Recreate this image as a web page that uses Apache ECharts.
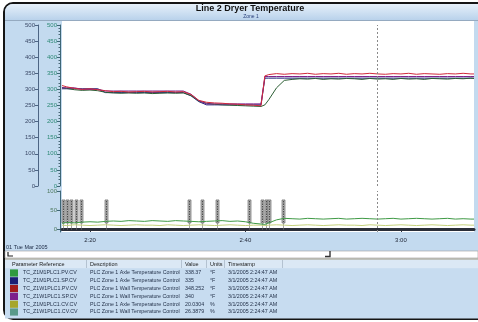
<!DOCTYPE html>
<html>
<head>
<meta charset="utf-8">
<script src="https://cdn.jsdelivr.net/npm/echarts@6/dist/echarts.min.js"></script>
<style>
  html, body { margin: 0; padding: 0; background: #ffffff; }
  #chart { width: 478px; height: 322px; }
</style>
</head>
<body>
<div id="chart"></div>
<script>
// Time axis: minutes after 2:00
const minutes = [16.4,17,18,19,20,21,22,23,24,25,26,27,28,29,30,31,32,33,34,35,36,37,38,39,40,41,42,
  42.5,43,44,45,46,47,48,49,50,51,52,53,54,55,56,57,58,59,60,61,62,63,64,65,66,67,68,69,69.4];

// Zone 1 temperatures (°F)
const wallPV = [312,308,303,300,302,299,296,293,294,292,293,294,292,293,294,292,293,284,266,260,258,257,255,254,252,251,249,
  342,346,349,347,349,348,350,347,349,348,350,347,349,348,350,348,347,349,348,350,347,349,348,347,349,348,350,348,348];
const wallSP = [305,305,305,300,300,300,295,295,295,295,295,295,295,295,295,295,295,285,265,255,255,255,255,255,255,255,255,
  340,340,340,340,340,340,340,340,340,340,340,340,340,340,340,340,340,340,340,340,340,340,340,340,340,340,340,340,340];
const axleSP = [302,302,302,302,302,302,290,290,290,290,290,290,290,290,290,290,290,280,262,252,252,252,252,252,252,252,252,
  335,335,335,335,335,335,335,335,335,335,335,335,335,335,335,335,335,335,335,335,335,335,335,335,335,335,335,335,335];
const axlePV = [306,303,299,297,298,296,291,289,288,289,288,289,287,288,289,288,289,281,264,257,254,252,251,250,249,248,247,
  252,268,305,328,331,333,332,334,331,333,332,334,333,331,334,332,333,331,334,332,333,331,334,333,332,334,333,335,334];

// Controller outputs (%)
const wallOut = [15,17,16,18,19,18,20,21,20,22,21,20,22,21,20,22,21,20,19,20,21,22,20,21,19,15,13,
  12,16,24,28,27,26,28,27,26,27,28,26,27,28,27,26,27,28,26,27,28,27,26,27,28,26,27,26,26];
const axleOut = [10,9,11,10,9,10,11,10,9,10,11,10,10,9,11,10,9,10,11,10,9,10,11,10,9,10,10,
  9,10,11,10,9,10,11,10,9,10,11,10,10,9,11,10,9,10,11,10,9,10,11,10,9,10,11,10,10];

// Event flags and cursor (minutes after 2:00)
const eventMinutes = [16.55,17.05,17.56,18.2,18.85,22.0,32.8,34.35,36.3,40.5,42.1,42.6,43.0,44.8];
const cursorMinute = 56.9;
const timeTicks = [20, 40, 60];
const outputTicks = [0, 50, 100];

// Readout table
const tagNames = ['TC_Z1M1PLC1.PV.CV','TC_Z1M1PLC1.SP.CV','TC_Z1W1PLC1.PV.CV','TC_Z1W1PLC1.SP.CV','TC_Z1M1PLC1.CV.CV','TC_Z1W1PLC1.CV.CV'];
const descriptions = ['PLC Zone 1 Axle Temperature Control','PLC Zone 1 Axle Temperature Control','PLC Zone 1 Wall Temperature Control',
  'PLC Zone 1 Wall Temperature Control','PLC Zone 1 Axle Temperature Control','PLC Zone 1 Wall Temperature Control'];
const readings = ['338.37','335','348.252','340','20.0304','26.3879'];
const units = ['°F','°F','°F','°F','%','%'];
const stamps = ['3/1/2005 2:24:47 AM','3/1/2005 2:24:47 AM','3/1/2005 2:24:47 AM','3/1/2005 2:24:47 AM','3/1/2005 2:24:47 AM','3/1/2005 2:24:47 AM'];
const swatchColors = ['#2f9a3f','#1b1f75','#a11c1c','#7d1f8c','#a6a62a','#5a9a8a'];

const FONT = 'Liberation Sans, Arial, sans-serif';
const zip = (vals) => minutes.map((m, i) => [m, vals[i]]);
const fmtTime = (v) => {
  const h = 2 + Math.floor(v / 60);
  const m = Math.round(v % 60);
  return h + ':' + String(m).padStart(2, '0');
};

const cursorLine = {
  silent: true, symbol: 'none', label: { show: false },
  lineStyle: { color: '#8a8a8a', type: [2, 2], width: 1 },
  data: [{ xAxis: cursorMinute }]
};

function upperLine(name, vals, color, extra) {
  return Object.assign({
    name, type: 'line', xAxisIndex: 0, yAxisIndex: 0, data: zip(vals),
    showSymbol: false, animation: false,
    lineStyle: { color, width: 1 }, itemStyle: { color }
  }, extra || {});
}
function lowerLine(name, vals, color, extra) {
  return Object.assign({
    name, type: 'line', xAxisIndex: 1, yAxisIndex: 2, data: zip(vals),
    showSymbol: false, animation: false,
    lineStyle: { color, width: 1 }, itemStyle: { color }
  }, extra || {});
}

// Static panel furniture: frame, title bar, plot background, timeline strip, table
const g = [];
g.push({ type: 'rect', z: -20, shape: { x: 0, y: 0, width: 478, height: 322 }, style: { fill: '#ffffff' } });
g.push({ type: 'rect', z: -19, shape: { x: 4, y: 3, width: 478, height: 316, r: [9, 0, 0, 9] },
  style: { fill: '#c3daef', stroke: '#151515', lineWidth: 2 } });
g.push({ type: 'rect', z: -18, shape: { x: 5, y: 4, width: 473, height: 16, r: [8, 0, 0, 0] },
  style: { fill: new echarts.graphic.LinearGradient(0, 0, 0, 1, [
    { offset: 0, color: '#e6f0fa' }, { offset: 1, color: '#b9d2eb' }]) } });
g.push({ type: 'line', z: -17, shape: { x1: 5, y1: 20.5, x2: 478, y2: 20.5 }, style: { stroke: '#95aac0', lineWidth: 1 } });
g.push({ type: 'rect', z: -16, shape: { x: 62, y: 21, width: 412, height: 211 }, style: { fill: '#ffffff' } });
g.push({ type: 'text', z: 5, style: { x: 250, y: 9, text: 'Line 2 Dryer Temperature', align: 'center', verticalAlign: 'middle',
  font: 'bold 9px ' + FONT, fill: '#111111' } });
g.push({ type: 'text', z: 5, style: { x: 251, y: 16.5, text: 'Zone 1', align: 'center', verticalAlign: 'middle',
  font: '5px ' + FONT, fill: '#2a3f7a' } });
g.push({ type: 'text', z: 5, style: { x: 6, y: 247, text: '01 Tue Mar 2005', align: 'left', verticalAlign: 'middle',
  font: '5.5px ' + FONT, fill: '#1c2a44' } });

// timeline strip
g.push({ type: 'rect', z: -10, shape: { x: 5, y: 251, width: 473, height: 7 }, style: { fill: '#ffffff', stroke: '#9a9a9a', lineWidth: 0.6 } });
g.push({ type: 'line', z: -9, shape: { x1: 5, y1: 259, x2: 478, y2: 259 }, style: { stroke: '#b8a88a', lineWidth: 1 } });
g.push({ type: 'polyline', z: 5, shape: { points: [[8, 252], [8, 256], [13, 256]] }, style: { stroke: '#222', lineWidth: 1.2, fill: null } });
g.push({ type: 'polyline', z: 5, shape: { points: [[330, 251], [330, 256.5], [325, 256.5]] }, style: { stroke: '#333', lineWidth: 1.4, fill: null } });

// table header and rows
const colX = { tag: 23, desc: 90, val: 185, unit: 210, time: 228 };
const headerY = 264.5, rowY0 = 273, rowH = 7.8;
g.push({ type: 'rect', z: -10, shape: { x: 5, y: 260, width: 473, height: 8.5 }, style: { fill: '#dbe8f5' } });
g.push({ type: 'rect', z: -10, shape: { x: 5, y: 268.5, width: 473, height: 50 }, style: { fill: '#c7dcf0' } });
[['Parameter Reference', 12], ['Description', colX.desc], ['Value', colX.val], ['Units', colX.unit], ['Timestamp', colX.time]]
  .forEach(([t, x]) => g.push({ type: 'text', z: 5, style: { x, y: headerY, text: t, verticalAlign: 'middle',
    font: '5.5px ' + FONT, fill: '#1a1a1a' } }));
[86, 181, 206, 224, 282].forEach((x) => g.push({ type: 'line', z: -8, shape: { x1: x + 0.5, y1: 260, x2: x + 0.5, y2: 268 },
  style: { stroke: '#aab8c8', lineWidth: 0.8 } }));
tagNames.forEach((tag, i) => {
  const y = rowY0 + i * rowH;
  g.push({ type: 'rect', z: 4, shape: { x: 10, y: y - 3.6, width: 8, height: 7.2 }, style: { fill: swatchColors[i] } });
  const cells = [[tag, colX.tag], [descriptions[i], colX.desc], [readings[i], colX.val], [units[i], colX.unit], [stamps[i], colX.time]];
  cells.forEach(([t, x]) => g.push({ type: 'text', z: 5, style: { x, y, text: t, verticalAlign: 'middle',
    font: '5.3px ' + FONT, fill: '#24324a' } }));
});

const chart = echarts.init(document.getElementById('chart'), null, { renderer: 'canvas' });
chart.setOption({
  animation: false,
  backgroundColor: 'transparent',
  graphic: g,
  grid: [
    { left: 62, top: 25, width: 412, height: 161 },
    { left: 62, top: 191, width: 412, height: 41 }
  ],
  xAxis: [
    { gridIndex: 0, type: 'value', min: 16.4, max: 69.4, show: false },
    { gridIndex: 1, type: 'value', min: 16.4, max: 69.4,
      axisLine: { show: true, lineStyle: { color: '#2a2e38', width: 3 } },
      axisTick: { show: true, customValues: timeTicks, length: 3, lineStyle: { color: '#2a2e38' } },
      axisLabel: { customValues: timeTicks, formatter: fmtTime, fontSize: 6, fontFamily: FONT, color: '#1e2433', margin: 5 },
      splitLine: { show: false } }
  ],
  yAxis: [
    { gridIndex: 0, type: 'value', min: 0, max: 500, interval: 50, position: 'left', offset: 24,
      axisLine: { show: true, lineStyle: { color: '#4d6584', width: 1 } },
      axisTick: { show: true, length: 3, lineStyle: { color: '#4d6584' } },
      axisLabel: { fontSize: 6, fontFamily: FONT, color: '#3c4a68', margin: 3 },
      splitLine: { show: false } },
    { gridIndex: 0, type: 'value', min: 0, max: 500, interval: 50, position: 'left', offset: 2,
      axisLine: { show: true, lineStyle: { color: '#3e6676', width: 1 } },
      axisTick: { show: true, length: 3, lineStyle: { color: '#3e6676' } },
      minorTick: { show: true, splitNumber: 5, length: 1.5, lineStyle: { color: '#4a6a78' } },
      axisLabel: { fontSize: 6, fontFamily: FONT, color: '#2e8a76', margin: 3 },
      splitLine: { show: false } },
    { gridIndex: 1, type: 'value', min: -8, max: 100, position: 'left', offset: 2,
      axisLine: { show: true, lineStyle: { color: '#3e6676', width: 1 } },
      axisTick: { show: true, customValues: outputTicks, length: 3, lineStyle: { color: '#3e6676' } },
      axisLabel: { customValues: outputTicks, fontSize: 6, fontFamily: FONT, color: '#4f7a5f', margin: 3 },
      splitLine: { show: false } }
  ],
  series: [
    upperLine('Axle SP', axleSP, '#1b1f75'),
    upperLine('Axle PV', axlePV, '#2c5e34'),
    upperLine('Wall SP', wallSP, '#7d1f8c'),
    upperLine('Wall PV', wallPV, '#d12a3c', { markLine: cursorLine }),
    lowerLine('Axle Output', axleOut, '#c4d07a'),
    lowerLine('Wall Output', wallOut, '#3f9a45', { markLine: cursorLine }),
    {
      name: 'Events', type: 'custom', xAxisIndex: 1, yAxisIndex: 2, animation: false, silent: true,
      data: eventMinutes.map((t) => [t, 0]),
      encode: { x: 0, y: 1 },
      renderItem: (params, api) => {
        const p = api.coord([api.value(0), 0]);
        const x = Math.round(p[0]) + 0.5;
        const yb = p[1];
        return {
          type: 'group',
          children: [
            { type: 'rect', shape: { x: x - 1.5, y: yb - 29, width: 3, height: 23 },
              style: { fill: '#bdbdbd', stroke: '#555555', lineWidth: 0.6 } },
            { type: 'line', shape: { x1: x, y1: yb - 28, x2: x, y2: yb - 7 },
              style: { stroke: '#303030', lineWidth: 0.8, lineDash: [1.5, 1] } },
            { type: 'line', shape: { x1: x, y1: yb - 6, x2: x, y2: yb + 1 },
              style: { stroke: '#6a6a6a', lineWidth: 0.6 } }
          ]
        };
      }
    }
  ]
});
</script>
</body>
</html>
